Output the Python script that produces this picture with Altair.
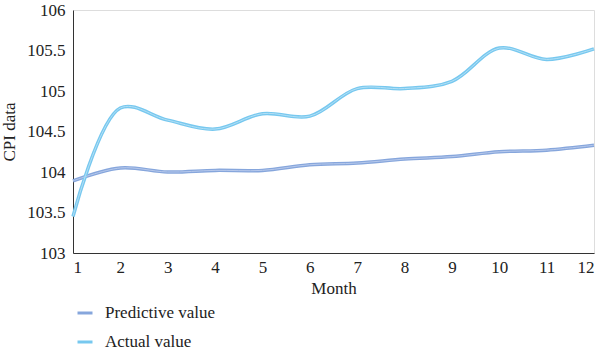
import altair as alt
import pandas as pd

months = list(range(1, 13))
predictive = [103.89, 104.05, 104.00, 104.02, 104.02, 104.09, 104.11, 104.16, 104.19, 104.25, 104.27, 104.33]
actual = [103.45, 104.79, 104.64, 104.53, 104.72, 104.69, 105.03, 105.03, 105.12, 105.53, 105.39, 105.52]
series_names = ["Predictive value", "Actual value"]
series_colors = ["#86a6dc", "#77c8ef"]
inner_colors = ["#b7c9ec", "#b3e0f6"]
y_ticks = [103, 103.5, 104, 104.5, 105, 105.5, 106]

rows = []
for m, p, a in zip(months, predictive, actual):
    rows.append({"Month": m, "value": p, "series": series_names[0]})
    rows.append({"Month": m, "value": a, "series": series_names[1]})
df = pd.DataFrame(rows)

FONT = "Liberation Serif"

x = alt.X("Month:Q", scale=alt.Scale(domain=[1, 12], nice=False),
          axis=alt.Axis(values=months, title="Month", grid=False, ticks=False,
                        labelFont=FONT, titleFont=FONT,
                        labelFontSize=17, titleFontSize=17, titleFontWeight="normal",
                        labelPadding=6, titlePadding=5, domainColor="#333333",
                        labelColor="#222222", titleColor="#222222"))
y = alt.Y("value:Q", scale=alt.Scale(domain=[103, 106], nice=False, zero=False),
          axis=alt.Axis(values=y_ticks, format=".6~g", title="CPI data", grid=False, ticks=False,
                        labelFont=FONT, titleFont=FONT,
                        labelFontSize=17, titleFontSize=17, titleFontWeight="normal",
                        labelPadding=8, titlePadding=8, domainColor="#333333",
                        labelColor="#222222", titleColor="#222222"))

outer = alt.Chart(df).mark_line(interpolate="catmull-rom", strokeWidth=3.5).encode(
    x=x, y=y,
    color=alt.Color("series:N", scale=alt.Scale(domain=series_names, range=series_colors),
                    sort=series_names,
                    legend=alt.Legend(title=None, orient="none", legendX=3, legendY=294,
                                      symbolType="stroke", symbolSize=225, symbolStrokeWidth=3,
                                      labelFontSize=17, labelFont=FONT, labelColor="#222222",
                                      rowPadding=12, labelOffset=11)),
    detail="series:N",
)
inner = alt.Chart(df).mark_line(interpolate="catmull-rom", strokeWidth=1).encode(
    x=x, y=y,
    color=alt.Color("series:N", scale=alt.Scale(domain=series_names, range=inner_colors), legend=None),
)

chart = alt.layer(outer, inner).resolve_scale(color="independent").properties(
    width=521, height=243,
    autosize=alt.AutoSizeParams(type="none"),
    padding={"left": 73, "top": 10, "right": 6, "bottom": 100},
).configure_view(stroke=None).configure(font=FONT)

chart.save("out.html", embed_options={"renderer": "svg", "actions": False})
